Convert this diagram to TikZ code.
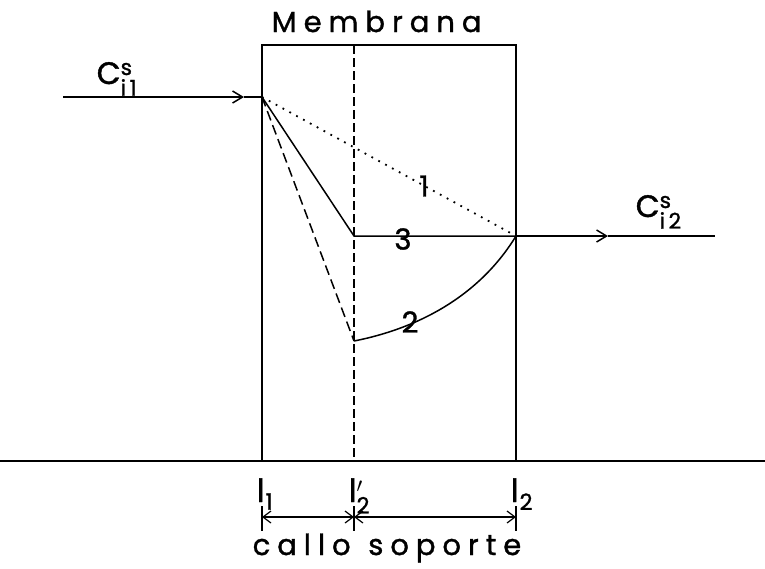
\documentclass[tikz,border=0pt]{standalone}
\usepackage{fontspec}
\usepackage{amsmath}
\newfontfamily\membfont[LetterSpace=24,FakeBold=1.2]{Poppins}
\newfontfamily\labfont[FakeBold=1.2]{Poppins}
\usetikzlibrary{arrows.meta,positioning}

\begin{document}
\begin{tikzpicture}[
  x=1pt, y=-1pt,
  line width=1.5pt,
  spaced/.style={font=\membfont\fontsize{29}{32}\selectfont, inner sep=0pt},
  conc/.style={font=\labfont\fontsize{31}{34}\selectfont, inner sep=0pt},
  num/.style={font=\labfont\fontsize{29}{32}\selectfont, inner sep=0pt},
  poslabel/.style={font=\labfont\fontsize{32}{34}\selectfont, inner sep=0pt, anchor=base west},
  flow/.style={-{Straight Barb[length=10pt,width=12pt]}},
  dim/.style={{Straight Barb[length=8pt,width=12pt]}-{Straight Barb[length=8pt,width=12pt]}, line width=1.2pt}
]
\useasboundingbox (0,0) rectangle (765,568);
% membrane box and axis
\coordinate (tl) at (262,45);
\coordinate (tr) at (516,45);
\coordinate (bl) at (262,461);
\coordinate (br) at (516,461);
\coordinate (dt) at (354,45);
\coordinate (db) at (354,461);
\coordinate (ax0) at (0,461);
\coordinate (ax1) at (765,461);
\draw (bl) -- (tl) -- (tr) -- (br);
\draw (ax0) -- (ax1);
\draw[dash pattern=on 9pt off 4pt] (dt) -- (db);
\node[spaced, anchor=base west] (memb) at (271,32) {Membrana};
% inlet / outlet
\coordinate (in) at (63,97);
\coordinate (intip) at (244,97);
\coordinate (a) at (262,97);
\coordinate (b) at (354,236);
\coordinate (c) at (516,236);
\coordinate (d) at (354,341);
\coordinate (outtip) at (608,236);
\coordinate (out) at (715,236);
\draw[flow] (in) -- (intip);
\draw (intip) -- (a);
\draw[flow] (c) -- (outtip);
\draw (outtip) -- (out);
\node[conc, anchor=base west] (cin) at (96,84) {C$^{\text{s}}_{\text{i\,1}}$};
\node[conc, anchor=base west] (cout) at (635,217) {C$^{\text{s}}_{\text{i\,2}}$};
% profiles
\draw[line width=1.8pt, dash pattern=on 1.8pt off 6pt] (a) -- (c);
\draw (a) -- (b) -- (c);
\draw[dash pattern=on 10pt off 5pt] (a) -- (d);
\draw (d) .. controls (420,328) and (480,295) .. (c);
\node[num] (p1) at (424,186) {1};
\node[num] (p3) at (403,239) {3};
\node[num] (p2) at (410,322) {2};
% positions
\node[poslabel] (l1) at (256,502) {l\kern1pt\textsubscript{1}};
\node[poslabel] (l2p) at (348,502) {l$'_{\text{2}}$};
\node[poslabel] (l2) at (510,502) {l\kern1pt\textsubscript{2}};
% dimension lines
\coordinate (t1a) at (262,506);
\coordinate (t1b) at (262,531);
\coordinate (t2a) at (354,506);
\coordinate (t2b) at (354,531);
\coordinate (t3a) at (516,506);
\coordinate (t3b) at (516,531);
\coordinate (m1) at (262,517);
\coordinate (m2) at (354,517);
\coordinate (m3) at (516,517);
\draw[line width=1.2pt] (t1a) -- (t1b);
\draw[line width=1.2pt] (t2a) -- (t2b);
\draw[line width=1.2pt] (t3a) -- (t3b);
\draw[dim] (m1) -- (m2);
\draw[dim] (m2) -- (m3);
\node[spaced, anchor=base west] (callo) at (252,555) {callo};
\node[spaced, anchor=base east] (sop) at (522,555) {soporte};
\end{tikzpicture}
\end{document}
